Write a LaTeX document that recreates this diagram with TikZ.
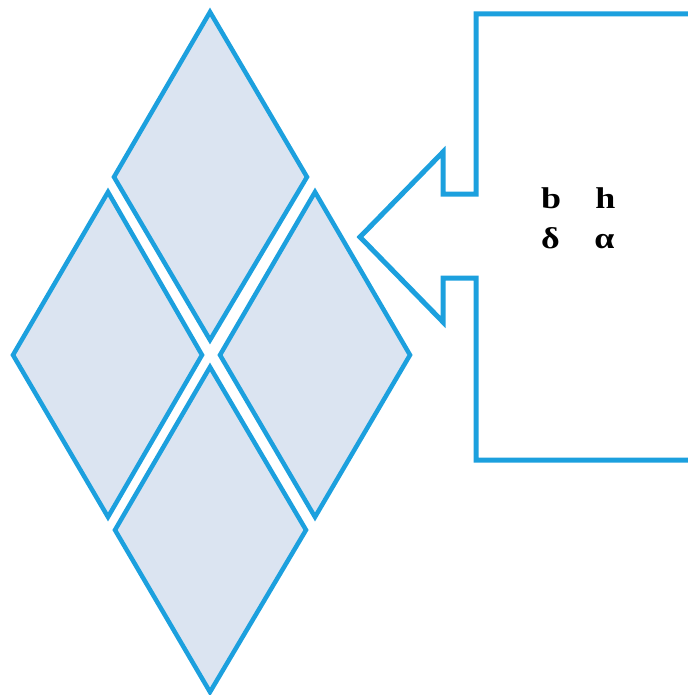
\documentclass[tikz,border=0pt]{standalone}
\usepackage{fontspec}
\setmainfont{Liberation Serif}
\definecolor{edge}{RGB}{28,160,222}
\definecolor{fillc}{RGB}{219,228,241}
\begin{document}
\begin{tikzpicture}[x=1pt,y=-1pt,
  rh/.style={draw=edge,fill=fillc,line width=4.5pt,line join=miter},
  callout/.style={draw=edge,line width=5pt,line join=miter},
  lbl/.style={font=\fontsize{30}{30}\selectfont\bfseries,anchor=base west,inner sep=0pt,xscale=1.2,transform shape}]
\useasboundingbox (0,0) rectangle (687,695);
% rhombi
\draw[rh] (210,12) coordinate (t1) -- (307,177) -- (210,340) -- (114,177) -- cycle;
\draw[rh] (108,192) coordinate (t2) -- (202,355) -- (108,517) -- (13,355) -- cycle;
\draw[rh] (315,192) coordinate (t3) -- (410,355) -- (315,517) -- (220,355) -- cycle;
\draw[rh] (210,367) coordinate (t4) -- (306,530) -- (210,692) -- (115,530) -- cycle;
% callout
\draw[callout] (690,14) -- (476,14) -- (476,194) -- (443,194) -- (443,152) -- (360,237)
  -- (443,322) -- (443,278) -- (476,278) -- (476,460) -- (690,460);
% labels
\node[lbl] (b) at (541,208) {b};
\node[lbl] (h) at (595,208) {h};
\node[lbl] (d) at (541,248) {δ};
\node[lbl] (a) at (594,248) {α};
\end{tikzpicture}
\end{document}
